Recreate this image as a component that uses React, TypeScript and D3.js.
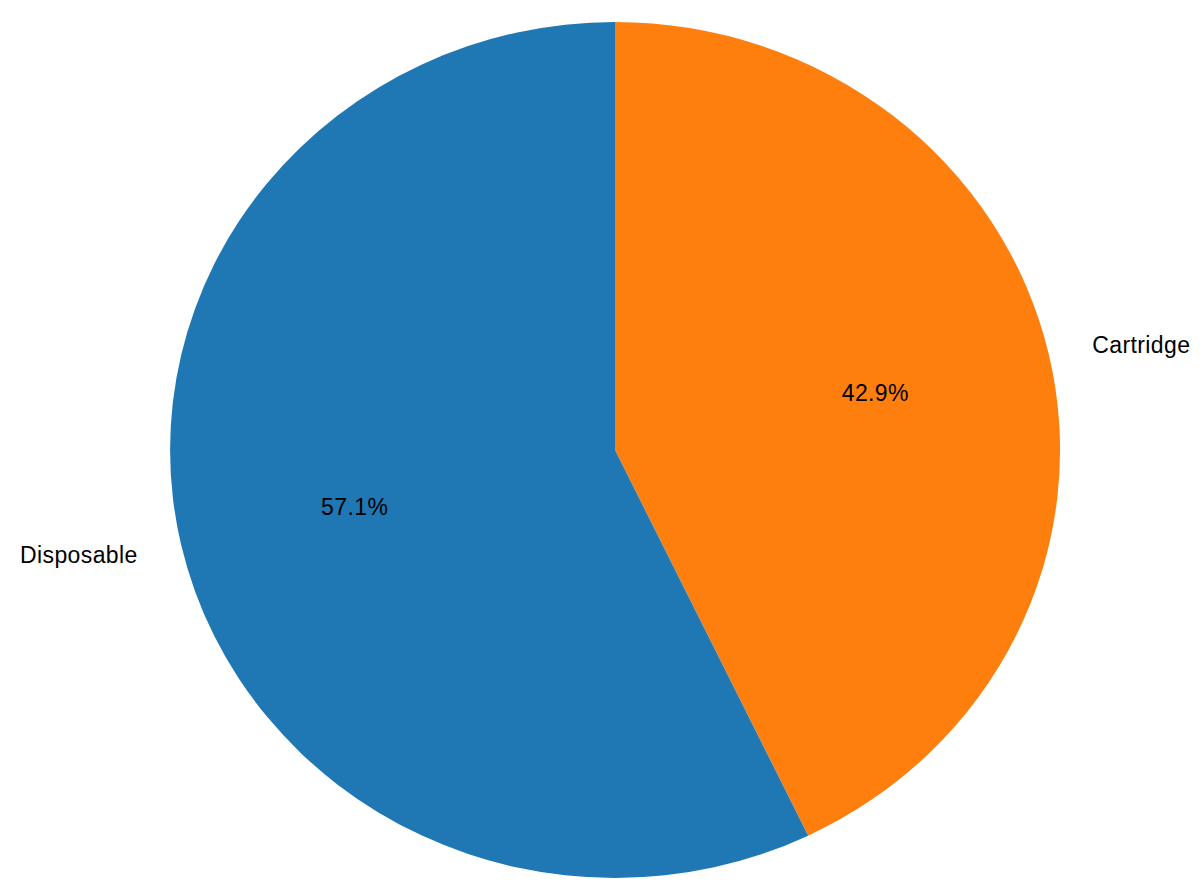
import * as d3 from "d3";

const categories = ["Cartridge", "Disposable"];
const counts = [3, 4];
const colors = ["#ff7f0e", "#1f77b4"];

export default function App() {
  const width = 1201;
  const height = 894;
  const cx = 615;
  const cy = 450;
  const rx = 445;
  const ry = 428;

  const slices = d3.pie<number>()
    .sort(null)
    .startAngle(0)
    .endAngle(2 * Math.PI)(counts);

  const arc = d3.arc<d3.PieArcDatum<number>>().innerRadius(0).outerRadius(1);
  const total = d3.sum(counts);

  // d3 angles: 0 at top, clockwise
  const at = (a: number, k: number) => [cx + k * rx * Math.sin(a), cy - k * ry * Math.cos(a)];

  return (
    <svg width={width} height={height} style={{ position: "absolute", left: 0, top: 0, background: "white" }}>
      <g transform={`translate(${cx},${cy}) scale(${rx},${ry})`}>
        {slices.map((s, i) => (
          <path key={categories[i]} d={arc(s) || ""} fill={colors[i]} />
        ))}
      </g>
      {slices.map((s, i) => {
        const mid = (s.startAngle + s.endAngle) / 2;
        const [lx, ly] = at(mid, 1.1);
        const [px, py] = at(mid, 0.6);
        const pct = ((counts[i] / total) * 100).toFixed(1) + "%";
        return (
          <g key={"t" + i} style={{ fontFamily: "Liberation Sans, Arial, sans-serif", fontSize: 23, letterSpacing: "0.4px" }} fill="#000">
            <text x={lx} y={ly} dy="0.35em" textAnchor={Math.sin(mid) >= 0 ? "start" : "end"}>{categories[i]}</text>
            <text x={px} y={py} dy="0.35em" textAnchor="middle">{pct}</text>
          </g>
        );
      })}
    </svg>
  );
}
